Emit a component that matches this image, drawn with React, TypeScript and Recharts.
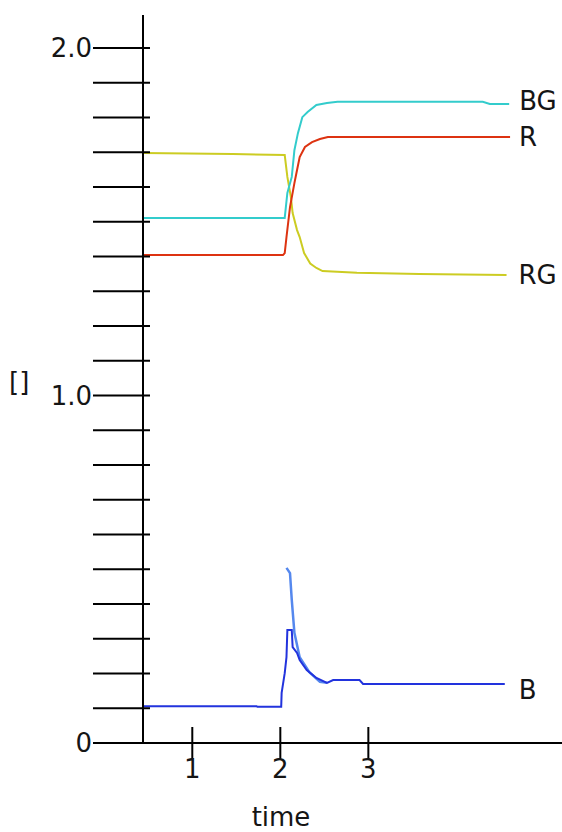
import { Line, LineChart, XAxis, YAxis } from 'recharts'

// points: t = time, v = value
const rgPoints = [
  { t: 0.44, v: 1.698 },
  { t: 1.46, v: 1.695 },
  { t: 2.05, v: 1.692 },
  { t: 2.08, v: 1.629 },
  { t: 2.12, v: 1.571 },
  { t: 2.14, v: 1.525 },
  { t: 2.19, v: 1.476 },
  { t: 2.22, v: 1.456 },
  { t: 2.27, v: 1.41 },
  { t: 2.34, v: 1.38 },
  { t: 2.41, v: 1.367 },
  { t: 2.48, v: 1.358 },
  { t: 2.87, v: 1.353 },
  { t: 3.58, v: 1.35 },
  { t: 4.57, v: 1.347 },
]

const bgPoints = [
  { t: 0.44, v: 1.511 },
  { t: 2.05, v: 1.511 },
  { t: 2.08, v: 1.583 },
  { t: 2.13, v: 1.629 },
  { t: 2.16, v: 1.706 },
  { t: 2.2, v: 1.755 },
  { t: 2.25, v: 1.801 },
  { t: 2.31, v: 1.816 },
  { t: 2.41, v: 1.836 },
  { t: 2.53, v: 1.842 },
  { t: 2.65, v: 1.845 },
  { t: 4.3, v: 1.845 },
  { t: 4.38, v: 1.839 },
  { t: 4.6, v: 1.839 },
]

const rPoints = [
  { t: 0.44, v: 1.404 },
  { t: 2.03, v: 1.404 },
  { t: 2.05, v: 1.41 },
  { t: 2.07, v: 1.456 },
  { t: 2.11, v: 1.542 },
  { t: 2.16, v: 1.611 },
  { t: 2.19, v: 1.649 },
  { t: 2.22, v: 1.686 },
  { t: 2.28, v: 1.715 },
  { t: 2.36, v: 1.729 },
  { t: 2.45, v: 1.738 },
  { t: 2.54, v: 1.744 },
  { t: 4.61, v: 1.744 },
]

const bPoints = [
  { t: 0.44, v: 0.106 },
  { t: 1.73, v: 0.106 },
  { t: 1.74, v: 0.104 },
  { t: 2.01, v: 0.104 },
  { t: 2.015, v: 0.144 },
  { t: 2.05, v: 0.201 },
  { t: 2.07, v: 0.247 },
  { t: 2.08, v: 0.325 },
  { t: 2.13, v: 0.325 },
  { t: 2.14, v: 0.276 },
  { t: 2.19, v: 0.259 },
  { t: 2.22, v: 0.239 },
  { t: 2.3, v: 0.21 },
  { t: 2.41, v: 0.187 },
  { t: 2.53, v: 0.173 },
  { t: 2.6, v: 0.181 },
  { t: 2.9, v: 0.181 },
  { t: 2.94, v: 0.17 },
  { t: 4.55, v: 0.17 },
]

const bPeakPoints = [
  { t: 2.07, v: 0.504 },
  { t: 2.11, v: 0.489 },
  { t: 2.13, v: 0.412 },
  { t: 2.16, v: 0.317 },
  { t: 2.22, v: 0.247 },
  { t: 2.33, v: 0.204 },
  { t: 2.45, v: 0.176 },
  { t: 2.53, v: 0.173 },
]

const yTicks = [
  0, 0.1, 0.2, 0.3, 0.4, 0.5, 0.6, 0.7, 0.8, 0.9, 1, 1.1, 1.2, 1.3, 1.4, 1.5,
  1.6, 1.7, 1.8, 1.9, 2,
]
const yTickLabels: Record<string, string> = { '0': '0', '1': '1.0', '2': '2.0' }
const xTicks = [1, 2, 3]

const FONT = '"DejaVu Sans", Verdana, sans-serif'
const TEXT = '#151515'
const SIZE = 26

function YTick({ x, y, payload }: any) {
  const label = yTickLabels[String(payload.value)]
  return (
    <g>
      <line x1={x - 50} x2={x + 7} y1={y} y2={y} stroke="#000" strokeWidth={2} />
      {label && (
        <text
          x={x - 51}
          y={y}
          textAnchor="end"
          dominantBaseline="central"
          fontFamily={FONT}
          fontSize={SIZE}
          fill={TEXT}
        >
          {label}
        </text>
      )}
    </g>
  )
}

function XTick({ x, y, payload }: any) {
  return (
    <g>
      <line x1={x} x2={x} y1={y - 16} y2={y + 16} stroke="#000" strokeWidth={2} />
      <text
        x={x}
        y={y + 26}
        textAnchor="middle"
        dominantBaseline="central"
        fontFamily={FONT}
        fontSize={SIZE}
        fill={TEXT}
      >
        {payload.value}
      </text>
    </g>
  )
}

function endLabel(name: string, count: number, dx: number, dy: number) {
  return (props: any) => {
    if (props.index !== count - 1) return null
    return (
      <text
        key={name}
        x={props.x + dx}
        y={props.y + dy}
        dominantBaseline="central"
        fontFamily={FONT}
        fontSize={SIZE}
        fill={TEXT}
      >
        {name}
      </text>
    )
  }
}

export default function App() {
  return (
    <div style={{ position: 'absolute', left: 0, top: 0, background: '#fff' }}>
      <LineChart width={562} height={832} margin={{ top: 15, right: 0, bottom: 0, left: 0 }}>
        <XAxis
          type="number"
          dataKey="t"
          domain={[0.44, 5.2]}
          ticks={xTicks}
          allowDataOverflow
          height={89}
          tickSize={0}
          tickMargin={0}
          tickLine={false}
          tick={<XTick />}
          axisLine={{ stroke: '#000', strokeWidth: 2 }}
        />
        <YAxis
          type="number"
          domain={[0, 2.095]}
          ticks={yTicks}
          interval={0}
          allowDataOverflow
          width={143}
          tickSize={0}
          tickMargin={0}
          tickLine={false}
          tick={<YTick />}
          axisLine={{ stroke: '#000', strokeWidth: 2 }}
        />
        <Line
          data={rgPoints}
          dataKey="v"
          type="linear"
          stroke="#cccc22"
          strokeWidth={2}
          dot={false}
          isAnimationActive={false}
          label={endLabel('RG', rgPoints.length, 12, 0)}
        />
        <Line
          data={bgPoints}
          dataKey="v"
          type="linear"
          stroke="#33cccc"
          strokeWidth={2}
          dot={false}
          isAnimationActive={false}
          label={endLabel('BG', bgPoints.length, 10, -3)}
        />
        <Line
          data={rPoints}
          dataKey="v"
          type="linear"
          stroke="#dd3311"
          strokeWidth={2}
          dot={false}
          isAnimationActive={false}
          label={endLabel('R', rPoints.length, 9, 0)}
        />
        <Line
          data={bPeakPoints}
          dataKey="v"
          type="linear"
          stroke="#5588ee"
          strokeWidth={2.5}
          dot={false}
          isAnimationActive={false}
        />
        <Line
          data={bPoints}
          dataKey="v"
          type="linear"
          stroke="#2233dd"
          strokeWidth={2}
          dot={false}
          isAnimationActive={false}
          label={endLabel('B', bPoints.length, 14, 6)}
        />
        <text x={9} y={382} dominantBaseline="central" fontFamily={FONT} fontSize={SIZE} fill={TEXT}>
          []
        </text>
        <text
          x={281}
          y={817}
          textAnchor="middle"
          dominantBaseline="central"
          fontFamily={FONT}
          fontSize={SIZE}
          fill={TEXT}
        >
          time
        </text>
      </LineChart>
    </div>
  )
}
